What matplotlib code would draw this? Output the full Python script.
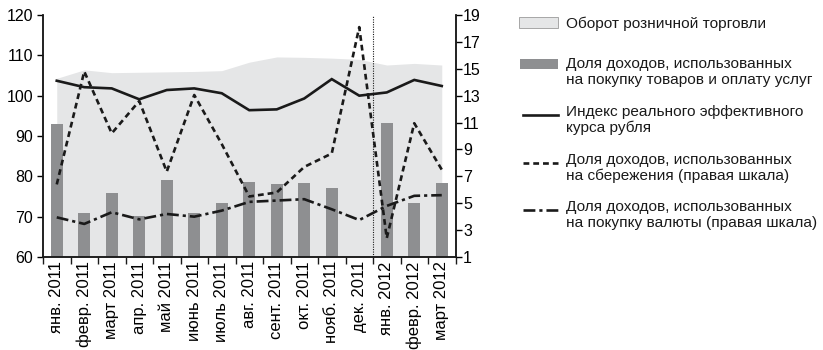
import matplotlib
matplotlib.use("Agg")
import matplotlib.pyplot as plt
from matplotlib.patches import Rectangle
from matplotlib.lines import Line2D
import numpy as np

plt.rcParams['font.family'] = ['Liberation Sans', 'DejaVu Sans']

months = ["янв. 2011", "февр. 2011", "март 2011", "апр. 2011", "май 2011",
          "июнь 2011", "июль 2011", "авг. 2011", "сент. 2011", "окт. 2011",
          "нояб. 2011", "дек. 2011", "янв. 2012", "февр. 2012", "март 2012"]

# left scale
retail_turnover = [104.3, 106.4, 105.7, 105.8, 105.9, 106.0, 106.2, 108.3,
                   109.6, 109.5, 109.3, 109.0, 107.6, 108.0, 107.6]
goods_services_share = [93.0, 70.8, 75.9, 70.2, 79.1, 70.8, 73.3, 78.7,
                        78.0, 78.4, 77.0, np.nan, 93.3, 73.3, 78.4]
reer_index = [103.7, 102.1, 101.8, 99.1, 101.4, 101.8, 100.6, 96.4,
              96.6, 99.3, 104.1, 100.0, 100.8, 103.9, 102.4]

# right scale
savings_share = [6.4, 14.8, 10.2, 12.6, 7.35, 13.05, 9.4, 5.5,
                 5.8, 7.7, 8.7, 18.1, 2.4, 10.95, 7.5]
currency_share = [3.95, 3.46, 4.33, 3.8, 4.2, 4.0, 4.45, 5.1,
                  5.2, 5.3, 4.55, 3.75, 4.8, 5.55, 5.6]

left_ticks = [60, 70, 80, 90, 100, 110, 120]
right_ticks = [1, 3, 5, 7, 9, 11, 13, 15, 17, 19]

legend_labels = ["Оборот розничной торговли",
                 "Доля доходов, использованных\nна покупку товаров и оплату услуг",
                 "Индекс реального эффективного\nкурса рубля",
                 "Доля доходов, использованных\nна сбережения (правая шкала)",
                 "Доля доходов, использованных\nна покупку валюты (правая шкала)"]

AREA_C = "#e5e6e7"
BAR_C = "#8e8f91"
LINE_C = "#1a1a1a"
FS_LEG = 11.1
FS_X = 12
FS_Y = 11.5

W, H = 823, 350
fig = plt.figure(figsize=(W / 100, H / 100), dpi=100)
ax = fig.add_axes([43 / W, 1 - 257 / H, (455.5 - 43) / W, (257 - 15) / H])
ax2 = ax.twinx()

x = np.arange(len(months))
ax.fill_between(x, 60, retail_turnover, color=AREA_C, lw=0, zorder=1)
ax.bar(x, goods_services_share, width=0.45, bottom=0,
       color=BAR_C, zorder=2)
ax.plot(x, reer_index, color=LINE_C, lw=1.9, zorder=4, solid_joinstyle='miter')

ax2.plot(x, savings_share, color=LINE_C, lw=1.9, dashes=(2.2, 1.5), zorder=4)
ax2.plot(x, currency_share, color=LINE_C, lw=1.9, dashes=(4.5, 1.5, 1.2, 1.5), zorder=4)
ax2.axvline(11.5, color=LINE_C, lw=0.8, ls=(0, (1, 1.2)), zorder=3)

ax.set_xlim(-0.5, len(months) - 0.5)
ax.set_ylim(60, 120)
ax2.set_ylim(1, 19)
ax.set_yticks(left_ticks)
ax2.set_yticks(right_ticks)

ax.set_xticks(np.arange(-0.5, len(months), 1.0))
ax.set_xticklabels([])
ax.set_xticks(x, minor=True)
ax.set_xticklabels(months, minor=True, rotation=90, fontsize=FS_X)
ax.tick_params(axis='x', which='major', direction='out', length=5, width=1, color=LINE_C)
ax.tick_params(axis='x', which='minor', length=0, pad=3)
ax.tick_params(axis='y', direction='out', length=4, width=1, labelsize=FS_Y, pad=3)
ax2.tick_params(axis='y', direction='out', length=4, width=1, labelsize=FS_Y, pad=1.5)

for a in (ax, ax2):
    a.spines['top'].set_visible(False)
    for s in ('left', 'right', 'bottom'):
        a.spines[s].set_linewidth(1.1)
        a.spines[s].set_color(LINE_C)
ax.set_zorder(ax2.get_zorder() - 1)
ax2.patch.set_visible(False)
ax.patch.set_visible(False)

# legend drawn in pixel coordinates
lg = fig.add_axes([0, 0, 1, 1])
lg.set_xlim(0, W)
lg.set_ylim(H, 0)
lg.axis('off')
lg.add_patch(Rectangle((519, 17), 39, 11, facecolor=AREA_C, edgecolor="#9a9a9a", lw=0.6))
lg.add_patch(Rectangle((520, 59), 38, 10, facecolor=BAR_C, edgecolor='none'))
lg.add_line(Line2D([523, 558], [115, 115], color=LINE_C, lw=1.9))
lg.add_line(Line2D([523, 558], [163, 163], color=LINE_C, lw=1.9, dashes=(2.2, 1.5)))
lg.add_line(Line2D([523, 558], [210, 210], color=LINE_C, lw=1.9, dashes=(4.5, 1.5, 1.2, 1.5)))

text_y = [24, 72, 120, 168, 215]
for ty, lab in zip(text_y, legend_labels):
    lg.text(566, ty, lab, fontsize=FS_LEG, va='center', ha='left', color=LINE_C, linespacing=1.12)

fig.savefig("out.png", dpi=100)
